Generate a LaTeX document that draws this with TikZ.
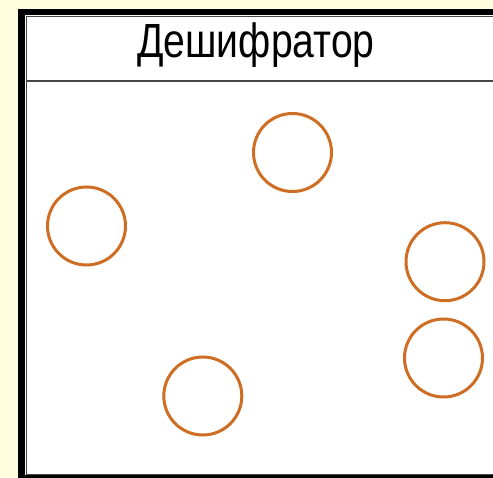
\documentclass[tikz,border=0pt]{standalone}
\usepackage{fontspec}
\setmainfont{Liberation Sans}
\definecolor{bgyellow}{RGB}{255,255,224}
\definecolor{ringorange}{RGB}{206,110,36}
\definecolor{thingray}{RGB}{70,70,70}
\begin{document}
\begin{tikzpicture}[x=1pt,y=-1pt,
  ring/.style={draw=ringorange,line width=3pt,circle,minimum size=78pt,inner sep=0pt},
  title/.style={anchor=base,inner sep=0pt,font=\fontsize{48}{48}\selectfont}]
\useasboundingbox (0,0) rectangle (493,478);
\fill[bgyellow] (0,0) rectangle (493,478);
\fill[black] (18,9) rectangle (510,478);
\fill[white] (25,15.5) rectangle (510,475);
\draw[thingray,line width=1.3pt] (26.8,16.8) rectangle (520,474.3);
\draw[thingray,line width=1.5pt] (26.8,81) -- (493,81);
\node[title] (t) at (256,57.3) {\scalebox{0.815}[1]{Дешифратор}};
\node[ring] (c1) at (86.5,226) {};
\node[ring] (c2) at (292.5,152.5) {};
\node[ring] (c3) at (445,261.7) {};
\node[ring] (c4) at (443.5,358) {};
\node[ring] (c5) at (202.8,396) {};
\end{tikzpicture}
\end{document}
